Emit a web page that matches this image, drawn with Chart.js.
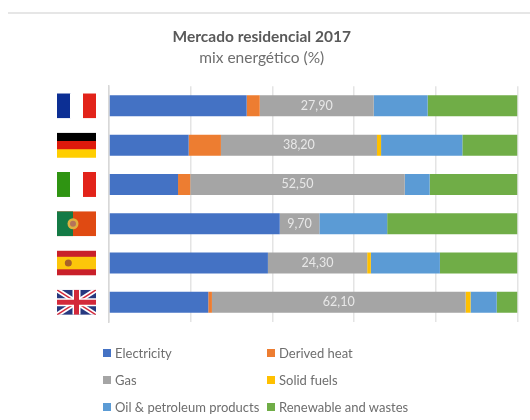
<!DOCTYPE html>
<html lang="pt">
<head>
<meta charset="UTF-8">
<title>Mercado residencial 2017</title>
<script src="https://cdn.jsdelivr.net/npm/chart.js"></script>
<style>
    html, body { margin: 0; padding: 0; background: #fff; }
    #wrap { position: relative; width: 530px; height: 420px; overflow: hidden; font-family: Lato, sans-serif; filter: blur(0.6px); }
    #topline { position: absolute; left: 8px; right: 0; top: 12px; height: 2px; background: #e6e6e6; }
    canvas { position: absolute; left: 0; top: 0; }
    #legend { position: absolute; left: 103px; top: 339px; display: grid; grid-template-columns: 164px 170px; grid-auto-rows: 27px; font-size: 13px; color: #6e6e6e; }
    #legend div { display: flex; align-items: center; white-space: nowrap; }
    #legend span { display: inline-block; width: 8px; height: 8px; margin-right: 4px; }
</style>
</head>
<body>
<div id="wrap">
    <div id="topline"></div>
    <canvas id="chart" width="520" height="420"></canvas>
    <div id="legend"></div>
</div>

<script>
const countries = ['França', 'Alemanha', 'Itália', 'Portugal', 'Espanha', 'Reino Unido'];

const electricity = [33.7, 19.5, 16.9, 41.8, 38.9, 24.3];
const derivedHeat = [3.2, 7.9, 3.0, 0, 0, 0.9];
const gas = [27.9, 38.2, 52.5, 9.7, 24.3, 62.1];
const solidFuels = [0, 1.0, 0, 0, 0.9, 1.2];
const oilProducts = [13.2, 19.9, 6.1, 16.6, 16.9, 6.4];
const renewables = [22.0, 13.5, 21.5, 31.9, 19.0, 5.1];

const seriesNames = ['Electricity', 'Derived heat', 'Gas', 'Solid fuels', 'Oil & petroleum products', 'Renewable and wastes'];
const seriesColors = ['#4472c4', '#ed7d31', '#a5a5a5', '#ffc000', '#5b9bd5', '#70ad47'];
const seriesValues = [electricity, derivedHeat, gas, solidFuels, oilProducts, renewables];

const xTicks = [0, 20, 40, 60, 80, 100];

// desenha as bandeiras no lugar dos nomes dos paises
function drawFlag(ctx, index, x, y, w, h) {
    ctx.save();
    ctx.beginPath();
    ctx.rect(x, y, w, h);
    ctx.clip();
    const band = (colors) => colors.forEach((c, i) => {
        ctx.fillStyle = c;
        ctx.fillRect(x + i * w / 3, y, w / 3 + 0.5, h);
    });
    if (index === 0) band(['#0c2f94', '#ffffff', '#e2231a']);
    if (index === 2) band(['#2f9412', '#ffffff', '#e2231a']);
    if (index === 1) {
        ['#000000', '#dd1a0c', '#ffce00'].forEach((c, i) => {
            ctx.fillStyle = c;
            ctx.fillRect(x, y + i * h / 3, w, h / 3 + 0.5);
        });
    }
    if (index === 3) {
        ctx.fillStyle = '#e04a12';
        ctx.fillRect(x, y, w, h);
        ctx.fillStyle = '#147a45';
        ctx.fillRect(x, y, w * 0.41, h);
        ctx.fillStyle = '#e0b040';
        ctx.beginPath();
        ctx.arc(x + w * 0.41, y + h / 2, 5.5, 0, Math.PI * 2);
        ctx.fill();
        ctx.fillStyle = '#b5735a';
        ctx.beginPath();
        ctx.arc(x + w * 0.41, y + h / 2, 3, 0, Math.PI * 2);
        ctx.fill();
    }
    if (index === 4) {
        ctx.fillStyle = '#c9202a';
        ctx.fillRect(x, y, w, h);
        ctx.fillStyle = '#fcc60a';
        ctx.fillRect(x, y + h / 4, w, h / 2);
        ctx.fillStyle = '#a8602a';
        ctx.beginPath();
        ctx.arc(x + w * 0.29, y + h / 2, 3.5, 0, Math.PI * 2);
        ctx.fill();
    }
    if (index === 5) {
        ctx.fillStyle = '#27387f';
        ctx.fillRect(x, y, w, h);
        const cross = (x1, y1, x2, y2, color, lw) => {
            ctx.strokeStyle = color;
            ctx.lineWidth = lw;
            ctx.beginPath();
            ctx.moveTo(x1, y1);
            ctx.lineTo(x2, y2);
            ctx.stroke();
        };
        cross(x, y, x + w, y + h, '#ffffff', 5);
        cross(x + w, y, x, y + h, '#ffffff', 5);
        cross(x, y, x + w, y + h, '#d3283a', 1.5);
        cross(x + w, y, x, y + h, '#d3283a', 1.5);
        cross(x + w / 2, y, x + w / 2, y + h, '#ffffff', 8);
        cross(x, y + h / 2, x + w, y + h / 2, '#ffffff', 8);
        cross(x + w / 2, y, x + w / 2, y + h, '#d3283a', 5);
        cross(x, y + h / 2, x + w, y + h / 2, '#d3283a', 5);
    }
    ctx.restore();
}

const flagsPlugin = {
    id: 'flags',
    afterDraw(chart) {
        const yScale = chart.scales.y;
        countries.forEach((name, i) => {
            drawFlag(chart.ctx, i, 57, yScale.getPixelForValue(i) - 12.5, 39, 25);
        });
    }
};

// so a serie Gas tem rotulo, em branco, no meio do segmento
const gasLabels = {
    id: 'gasLabels',
    afterDatasetsDraw(chart) {
        const ctx = chart.ctx;
        const meta = chart.getDatasetMeta(2);
        ctx.save();
        ctx.font = '12.5px Lato, sans-serif';
        ctx.fillStyle = '#e8e8e8';
        ctx.textAlign = 'center';
        ctx.textBaseline = 'middle';
        meta.data.forEach((bar, i) => {
            ctx.fillText(gas[i].toFixed(2).replace('.', ','), (bar.x + bar.base) / 2, bar.y);
        });
        ctx.restore();
    }
};

const chart = new Chart(document.getElementById('chart').getContext('2d'), {
    type: 'bar',
    data: {
        labels: countries,
        datasets: seriesNames.map((name, i) => ({
            label: name,
            data: seriesValues[i],
            backgroundColor: seriesColors[i],
            barPercentage: 0.534,
            categoryPercentage: 1.0
        }))
    },
    options: {
        indexAxis: 'y',
        responsive: false,
        animation: false,
        layout: { padding: { left: 6, right: 2.5, top: 0, bottom: 98 } },
        plugins: {
            legend: { display: false },
            tooltip: { enabled: false },
            title: {
                display: true,
                text: 'Mercado residencial 2017',
                color: '#595959',
                font: { family: 'Lato, sans-serif', size: 15.5, weight: 'bold' },
                padding: { top: 28, bottom: 2 }
            },
            subtitle: {
                display: true,
                text: 'mix energético (%)',
                color: '#6e6e6e',
                font: { family: 'Lato, sans-serif', size: 15.5 },
                padding: { top: 0, bottom: 19 }
            }
        },
        scales: {
            x: {
                stacked: true,
                min: xTicks[0],
                max: xTicks[xTicks.length - 1],
                ticks: { display: false, stepSize: 20 },
                grid: { color: '#e4e4e4', lineWidth: 1.5, drawTicks: false },
                border: { display: false }
            },
            y: {
                stacked: true,
                afterFit(scale) { scale.width = 103; },
                ticks: { display: false },
                grid: { display: false, drawTicks: false },
                border: { display: true, color: '#d8d8d8', width: 1.5 }
            }
        }
    },
    plugins: [flagsPlugin, gasLabels]
});

document.getElementById('legend').innerHTML = chart.data.datasets.map(d =>
    `<div><span style="background:${d.backgroundColor}"></span>${d.label}</div>`
).join('');
</script>
</body>
</html>
